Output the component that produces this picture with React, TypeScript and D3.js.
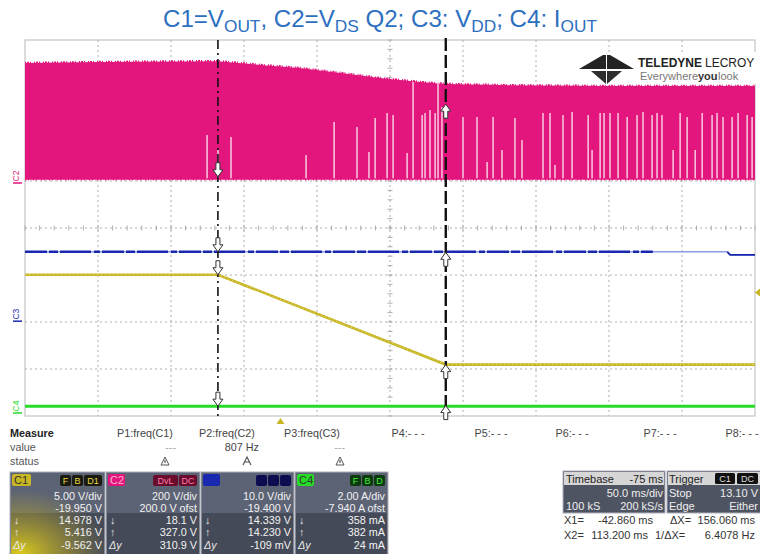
import * as d3 from "d3";

// time base: 50 ms/div, delay -75 ms -> screen spans -175 .. 325 ms
const timeDomain = [-175, 325];
const voltsPerDiv = [5, 200, 10, 2];
const offsets = [-19.95, 200, -19.4, -7.94];
const chColors = ["#c8b624", "#e2167c", "#1a28b0", "#26dc26"];
const chNames = ["C1", "C2", "C3", "C4"];

// C1 = VOUT
const c1Time = [-175, -42.86, 113.2, 325];
const c1Volt = [14.98, 14.98, 5.42, 5.42];
// C2 = VDS Q2 (switching band: bottom level + top envelope)
const c2EnvTime = [-175, -124, -43, -14, 13, 41, 68, 96, 113, 150, 219, 325];
const c2EnvTop = [502, 506, 510, 494, 481, 460, 438, 421, 413, 408, 404, 404];
const c2Bottom = 5;
const c2GapTime = [
  -50.3, -42.8, -33.9, 17.5, 36.7, 52.4, 60.6, 64.8, 73, 77.1, 86.7, 90.8, 97, 99, 102.4,
  105.9, 107.9, 110.6, 125, 134.6, 141.5, 145.6, 151.7, 160.6, 165.4, 179.8, 184.6, 188,
  193.5, 199.7, 210.7, 213.4, 218.9, 221.6, 225.7, 231.2, 237.4, 244.2, 248.3, 254.5, 257.9,
  261.3, 268.9, 273.7, 278.5, 284, 288.8, 295.6, 299, 303.1, 309.3, 313.4, 319.6, 323,
];
const c2GapTop = [
  196, 132, 187, 111, 251, 230, 123, 268, 289, 281, 119, 421, 281, 289, 302,
  289, 421, 315, 272, 272, 81, 272, 132, 268, 174, 289, 289, 68,
  281, 294, 281, 132, 289, 289, 289, 289, 272, 281, 294, 281, 289,
  281, 132, 289, 272, 132, 289, 281, 289, 272, 272, 289, 281, 272,
];
// C3 = VDD
const c3Time = [-175, 306, 308, 325];
const c3Volt = [14.34, 14.34, 13.7, 13.7];
const c3DarkUntil = 255;
// C4 = IOUT
const c4Time = [-175, 325];
const c4Amp = [0.358, 0.358];

const cursorTime = [-42.86, 113.2];
const levelsX1 = [14.978, 18.1, 14.339, 0.358];
const levelsX2 = [5.416, 327.0, 14.23, 0.382];
const triggerTime = 0;
const triggerLevel = 13.1;

const chVdivText = ["5.00 V/div", "200 V/div", "10.0 V/div", "2.00 A/div"];
const chOfsText = ["-19.950 V", "200.0 V ofst", "-19.400 V", "-7.940 A ofst"];
const chX1Text = ["14.978 V", "18.1 V", "14.339 V", "358 mA"];
const chX2Text = ["5.416 V", "327.0 V", "14.230 V", "382 mA"];
const chDyText = ["-9.562 V", "310.9 V", "-109 mV", "24 mA"];
const chFlags = [["F", "B", "D1"], ["DvL", "DC"], ["", "", ""], ["F", "B", "D"]];

const measureLabels = ["P1:freq(C1)", "P2:freq(C2)", "P3:freq(C3)", "P4:- - -", "P5:- - -", "P6:- - -", "P7:- - -", "P8:- - -"];
const measureValues = ["---", "807 Hz", "---"];

const W = 760, H = 554;
const L = 25, R = 755, T = 40, B = 416;
const FONT = "'Liberation Sans', Arial, sans-serif";

const x = d3.scaleLinear().domain(timeDomain).range([L, R]);
const yCh = (i: number) =>
  d3.scaleLinear().domain([-4 * voltsPerDiv[i] - offsets[i], 4 * voltsPerDiv[i] - offsets[i]]).range([B, T]);
const yScales = [0, 1, 2, 3].map(yCh);

function arrow(cx: number, cy: number, up: boolean) {
  const s = up ? -1 : 1;
  return `M${cx - 2},${cy - 14 * s} L${cx + 2},${cy - 14 * s} L${cx + 2},${cy - 7 * s} L${cx + 5},${cy - 7 * s} L${cx},${cy} L${cx - 5},${cy - 7 * s} L${cx - 2},${cy - 7 * s} Z`;
}

function Grid() {
  const xs = d3.range(0, 11).map((i) => x(timeDomain[0] + i * 50));
  const ys = d3.range(0, 9).map((i) => T + (i * (B - T)) / 8);
  const cy = (T + B) / 2;
  const cx = x(75);
  const minorX = d3.range(0, 51).map((i) => L + (i * (R - L)) / 50);
  const minorY = d3.range(0, 41).map((i) => T + (i * (B - T)) / 40);
  return (
    <g>
      {xs.slice(1, -1).map((v, i) => (
        <line key={"v" + i} x1={v} x2={v} y1={T} y2={B} stroke="#9a9a9a" strokeWidth={0.8} strokeDasharray="2,3" />
      ))}
      {ys.slice(1, -1).map((v, i) => (
        <line key={"h" + i} x1={L} x2={R} y1={v} y2={v} stroke="#9a9a9a" strokeWidth={0.8} strokeDasharray="2,3" />
      ))}
      {minorX.map((v, i) => (
        <line key={"mx" + i} x1={v} x2={v} y1={cy - 2.5} y2={cy + 2.5} stroke="#9a9a9a" strokeWidth={0.8} />
      ))}
      {minorY.map((v, i) => (
        <line key={"my" + i} x1={cx - 2.5} x2={cx + 2.5} y1={v} y2={v} stroke="#9a9a9a" strokeWidth={0.8} />
      ))}
      <rect x={L} y={T} width={R - L} height={B - T} fill="none" stroke="#b8b8b8" strokeWidth={1} />
    </g>
  );
}

function Traces() {
  const y1 = yScales[0], y2 = yScales[1], y3 = yScales[2], y4 = yScales[3];
  const band = d3.area<number>()
    .x((_, i) => x(c2EnvTime[i]))
    .y0(y2(c2Bottom))
    .y1((d) => y2(d));
  const line = (ts: number[], ysc: d3.ScaleLinear<number, number>) =>
    d3.line<number>().x((_, i) => x(ts[i])).y((d) => ysc(d));
  return (
    <g>
      <path d={band(c2EnvTop) || ""} fill={chColors[1]} />
      <path d={d3.line<number>().x((_, i) => x(c2EnvTime[i])).y((d) => y2(d))(c2EnvTop) || ""}
        fill="none" stroke={chColors[1]} strokeWidth={2.5} strokeDasharray="1,1,2,1,1,3" />
      <line x1={L} x2={R} y1={y2(c2Bottom)} y2={y2(c2Bottom)} stroke={chColors[1]} strokeWidth={1.5} strokeDasharray="1,2,1,4" />
      {c2GapTime.map((t, i) => (
        <line key={i} x1={x(t)} x2={x(t)} y1={y2(c2Bottom) - 1.5} y2={y2(c2GapTop[i])}
          stroke="#fce6f1" strokeWidth={1.3} />
      ))}
      {/* C3 */}
      <path d={line(c3Time, y3)(c3Volt) || ""} fill="none" stroke="#8d9ae6" strokeWidth={1.6} />
      <line x1={x(c3Time[0])} x2={x(c3DarkUntil)} y1={y3(c3Volt[0])} y2={y3(c3Volt[0])}
        stroke={chColors[2]} strokeWidth={2.6} strokeDasharray="22,2,9,2,31,3,6,2" />
      <path d={line(c3Time.slice(1), y3)(c3Volt.slice(1)) || ""} fill="none" stroke={chColors[2]} strokeWidth={1.8} />
      {/* C1 */}
      <path d={line(c1Time, y1)(c1Volt) || ""} fill="none" stroke={chColors[0]} strokeWidth={2.6} />
      <path d={line(c1Time, y1)(c1Volt) || ""} fill="none" stroke="#e6db8a" strokeWidth={1} strokeDasharray="1,3" />
      {/* C4 */}
      <path d={line(c4Time, y4)(c4Amp) || ""} fill="none" stroke={chColors[3]} strokeWidth={3} />
    </g>
  );
}

function Cursors() {
  const [t1, t2] = cursorTime;
  return (
    <g>
      <line x1={x(t1)} x2={x(t1)} y1={T} y2={B} stroke="#111" strokeWidth={1.6} strokeDasharray="9,4,2,4" />
      <line x1={x(t2)} x2={x(t2)} y1={T - 2} y2={B} stroke="#111" strokeWidth={2.4} strokeDasharray="13,4" />
      {levelsX1.map((v, i) => (
        <path key={"a" + i} d={arrow(x(t1), yScales[i](v), false)} fill="#fff" stroke="#333" strokeWidth={1} />
      ))}
      {levelsX2.map((v, i) => (
        <path key={"b" + i} d={arrow(x(t2), yScales[i](v), true)} fill="#fff" stroke="#333" strokeWidth={1} />
      ))}
    </g>
  );
}

function ChannelTags() {
  return (
    <g fontFamily={FONT} fontSize={8.5}>
      {[1, 2, 3].map((i) => {
        const gy = Math.min(yScales[i](0) - 5, B - 10);
        return (
          <g key={i}>
            <text transform={`translate(19,${gy}) rotate(-90)`} textAnchor="middle" fill={chColors[i]}>{chNames[i]}</text>
            <line x1={13} x2={22} y1={gy + 7} y2={gy + 7} stroke={chColors[i]} strokeWidth={1.5} />
          </g>
        );
      })}
      {/* trigger markers */}
      <path d={`M${x(triggerTime) - 4},${B + 8} L${x(triggerTime) + 4},${B + 8} L${x(triggerTime)},${B + 2} Z`} fill={chColors[0]} />
      <path d={`M${R + 5},${yScales[0](triggerLevel) - 4} L${R + 5},${yScales[0](triggerLevel) + 4} L${R},${yScales[0](triggerLevel)} Z`} fill={chColors[0]} />
    </g>
  );
}

function Logo() {
  return (
    <g fontFamily={FONT}>
      <rect x={574} y={52} width={182} height={32} fill="#fff" />
      <path d="M579,69 L603,55 L606,55 L606,69 Z" fill="#232323" />
      <path d="M634,69 L610,55 L607,55 L607,69 Z" fill="#232323" />
      <path d="M591,71 L606,71 L606,84 Z" fill="#2e2e2e" />
      <path d="M622,71 L607,71 L607,84 Z" fill="#2e2e2e" />
      <text x={638} y={67} fontSize={12} fontWeight="bold" fill="#222">TELEDYNE</text>
      <text x={705} y={67} fontSize={12} fill="#222">LECROY</text>
      <text x={640} y={80} fontSize={11} fill="#777">Everywhere</text>
      <text x={698} y={80} fontSize={11} fontWeight="bold" fill="#333">you</text>
      <text x={718} y={80} fontSize={11} fill="#777">look</text>
    </g>
  );
}

function Title() {
  const sub = (s: string) => (
    <tspan fontSize={16.5} dy={5}>{s}</tspan>
  );
  return (
    <text x={380} y={27} textAnchor="middle" fontFamily={FONT} fontSize={23} fill="#2d6fc0"
      textLength={434} lengthAdjust="spacingAndGlyphs">
      C1=V{sub("OUT")}<tspan dy={-5}>, C2=V</tspan>{sub("DS")}<tspan dy={-5}> Q2; C3: V</tspan>{sub("DD")}
      <tspan dy={-5}>; C4: I</tspan>{sub("OUT")}
    </text>
  );
}

function Measure() {
  const colX = [145, 227, 312, 408, 491, 572, 660, 742];
  return (
    <g fontFamily={FONT} fontSize={10.8} fill="#444">
      <text x={10} y={437} fontWeight="bold" fill="#222">Measure</text>
      <text x={10} y={451} fill="#555">value</text>
      <text x={10} y={465} fill="#555">status</text>
      {measureLabels.map((m, i) => (
        <text key={m} x={colX[i]} y={437} textAnchor="middle">{m}</text>
      ))}
      {measureValues.map((v, i) => (
        <text key={i} x={[176, 259, 345][i]} y={451} textAnchor="end" fill={v === "---" ? "#aaa" : "#444"}>{v}</text>
      ))}
      {[165, 340].map((cx) => (
        <g key={cx}>
          <path d={`M${cx - 4},${465} L${cx + 4},${465} L${cx},${457} Z`} fill="#fff" stroke="#555" strokeWidth={1} />
          <line x1={cx} x2={cx} y1={460} y2={463} stroke="#333" />
        </g>
      ))}
      <path d="M243,465 L247,457 L251,465 M244,462 L250,462" fill="none" stroke="#555" strokeWidth={1.2} />
    </g>
  );
}

function ChannelBoxes() {
  const bx = [10, 106, 201, 295];
  const bw = [95, 94, 93, 93];
  const top = 472;
  const flagBg = ["#1a1a10", "#6a0c2c", "#0c0c50", "#0c3a0c"];
  const flagFg = ["#e8d840", "#ff7aa8", "#3a3ad0", "#40f040"];
  return (
    <g fontFamily={FONT} fontSize={10.8}>
      <defs>
        <radialGradient id="c1glow" cx="0.1" cy="1" r="0.95">
          <stop offset="0" stopColor="#dccb1c" stopOpacity={1} />
          <stop offset="0.55" stopColor="#b4a42c" stopOpacity={0.55} />
          <stop offset="1" stopColor="#b0a030" stopOpacity={0} />
        </radialGradient>
      </defs>
      {bx.map((x0, i) => {
        const w = bw[i];
        const right = x0 + w - 3;
        const flags = chFlags[i];
        const fw = flags.map((f) => Math.max(11, f.length * 7 + 4));
        let fx = x0 + w - 2;
        const flagPos = flags.map((_, k) => k).reverse().map((k) => { fx -= fw[k] + 1; return [k, fx]; });
        return (
          <g key={i}>
            <rect x={x0} y={top} width={w} height={H - top + 2} fill="#5c6375" stroke="#aeb2bb" strokeWidth={1} />
            <rect x={x0 + 1} y={513} width={w - 2} height={H - 513} fill="#454a58" />
            {i === 0 && <rect x={x0 + 1} y={top + 14} width={w - 2} height={H - top - 14} fill="url(#c1glow)" />}
            <rect x={x0 + 2} y={top + 2} width={i === 0 ? 19 : 17} height={12} rx={2} fill={chColors[i]} />
            <text x={x0 + 4} y={top + 12} fill={i === 0 || i === 3 ? "#333" : "#ffb0d0"} fontSize={11}>
              {i === 2 ? "" : chNames[i]}
            </text>
            {flagPos.map(([k, px]) => (
              <g key={k}>
                <rect x={px} y={top + 3} width={fw[k]} height={11} rx={2} fill={flagBg[i]} />
                <text x={px + fw[k] / 2} y={top + 12} textAnchor="middle" fontSize={9} fill={flagFg[i]}>{flags[k]}</text>
              </g>
            ))}
            <text x={right} y={500} textAnchor="end" fill="#f2f2f2">{chVdivText[i]}</text>
            <text x={right} y={512} textAnchor="end" fill="#f2f2f2">{chOfsText[i]}</text>
            <text x={right} y={524} textAnchor="end" fill="#f2f2f2">{chX1Text[i]}</text>
            <text x={right} y={536} textAnchor="end" fill="#f2f2f2">{chX2Text[i]}</text>
            <text x={right} y={549} textAnchor="end" fill="#f2f2f2">{chDyText[i]}</text>
            <text x={x0 + 4} y={524} fill="#e8e8e8">↓</text>
            <text x={x0 + 4} y={536} fill="#e8e8e8">↑</text>
            <text x={x0 + 3} y={549} fill="#e8e8e8" fontStyle="italic">Δy</text>
          </g>
        );
      })}
    </g>
  );
}

function TimebaseBoxes() {
  return (
    <g fontFamily={FONT} fontSize={11}>
      <rect x={563} y={471} width={102} height={42} fill="#4e5462" stroke="#aeb2bb" />
      <rect x={564} y={472} width={100} height={13} fill="#d6d6d6" />
      <text x={566} y={483} fill="#222">Timebase</text>
      <text x={663} y={483} textAnchor="end" fill="#222">-75 ms</text>
      <text x={663} y={497} textAnchor="end" fill="#eee">50.0 ms/div</text>
      <text x={566} y={510} fill="#eee">100 kS</text>
      <text x={663} y={510} textAnchor="end" fill="#eee">200 kS/s</text>

      <rect x={667} y={471} width={95} height={42} fill="#4e5462" stroke="#aeb2bb" />
      <rect x={668} y={472} width={92} height={13} fill="#d6d6d6" />
      <text x={669} y={483} fill="#222">Trigger</text>
      <rect x={715} y={473} width={20} height={11} rx={1.5} fill="#111" />
      <text x={725} y={482} textAnchor="middle" fill="#ddd" fontSize={9}>C1</text>
      <rect x={737} y={473} width={21} height={11} rx={1.5} fill="#111" />
      <text x={747.5} y={482} textAnchor="middle" fill="#ddd" fontSize={9}>DC</text>
      <text x={669} y={497} fill="#eee">Stop</text>
      <text x={758} y={497} textAnchor="end" fill="#eee">13.10 V</text>
      <text x={669} y={510} fill="#eee">Edge</text>
      <text x={758} y={510} textAnchor="end" fill="#eee">Either</text>

      <g fill="#333">
        <text x={564} y={524}>X1=</text>
        <text x={653} y={524} textAnchor="end">-42.860 ms</text>
        <text x={670} y={524}>ΔX=</text>
        <text x={755} y={524} textAnchor="end">156.060 ms</text>
        <text x={564} y={539}>X2=</text>
        <text x={648} y={539} textAnchor="end">113.200 ms</text>
        <text x={655} y={539}>1/ΔX=</text>
        <text x={755} y={539} textAnchor="end">6.4078 Hz</text>
      </g>
    </g>
  );
}

export default function App() {
  return (
    <div style={{ position: "fixed", left: 0, top: 0, width: W, height: H, background: "#fff" }}>
      <svg width={W} height={H} viewBox={`0 0 ${W} ${H}`} style={{ display: "block" }}>
        <rect width={W} height={H} fill="#fff" />
        <Title />
        <Grid />
        <Traces />
        <Logo />
        <Cursors />
        <ChannelTags />
        <Measure />
        <ChannelBoxes />
        <TimebaseBoxes />
      </svg>
    </div>
  );
}
